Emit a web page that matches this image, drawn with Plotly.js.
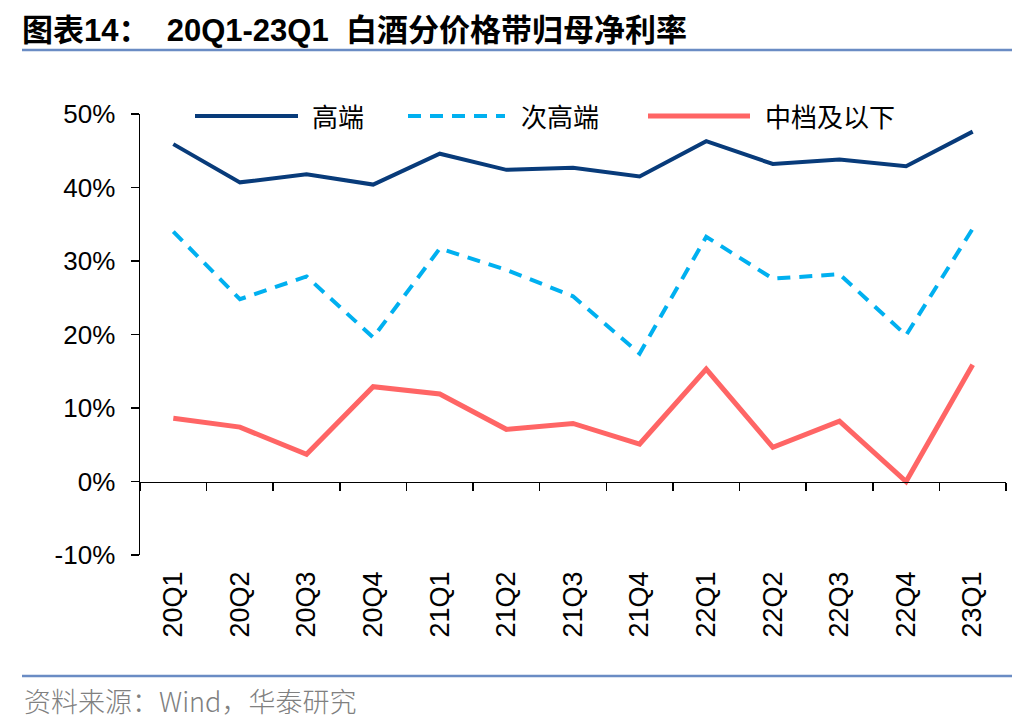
<!DOCTYPE html>
<html>
<head>
<meta charset="utf-8">
<script src="https://cdn.plot.ly/plotly-3.0.1.min.js"></script>
<style>html,body{margin:0;padding:0;background:#fff;}#chart{width:1036px;height:728px;}</style>
</head>
<body>
<div id="chart"></div>
<script>
const categories = ['20Q1','20Q2','20Q3','20Q4','21Q1','21Q2','21Q3','21Q4','22Q1','22Q2','22Q3','22Q4','23Q1'];
const highEnd = [45.9, 40.7, 41.8, 40.4, 44.6, 42.4, 42.7, 41.5, 46.3, 43.2, 43.8, 42.9, 47.6];
const subHighEnd = [34.0, 24.8, 27.9, 19.6, 31.7, 28.8, 25.2, 17.4, 33.3, 27.6, 28.2, 19.9, 34.4];
const midLow = [8.6, 7.4, 3.7, 12.9, 11.9, 7.1, 7.9, 5.1, 15.3, 4.65, 8.2, 0.0, 15.9];
const seriesNames = ['高端', '次高端', '中档及以下'];
const yTickVals = [-10, 0, 10, 20, 30, 40, 50];
const yTickText = ['-10%', '0%', '10%', '20%', '30%', '40%', '50%'];

const colors = ['#083b7a', '#00b0f0', '#ff6565'];
const dashes = ['solid', '13px,9px', 'solid'];
const widths = [4, 4, 5];
const seriesData = [highEnd, subHighEnd, midLow];

const traces = seriesData.map((vals, i) => ({
  type: 'scatter', mode: 'lines', name: seriesNames[i],
  x: categories, y: vals,
  line: {color: colors[i], width: widths[i], dash: dashes[i]},
  showlegend: false, hoverinfo: 'skip'
}));
// helper trace so that the zero-line axis (x2) gets drawn
traces.push({type: 'scatter', mode: 'lines', x: [], y: [], xaxis: 'x2', yaxis: 'y', showlegend: false, hoverinfo: 'skip'});

const W = 1036, H = 728, L = 140, R = 30, T = 114, B = 173;
const pw = W - L - R, ph = H - T - B;
const px = (p) => (p - L) / pw;           // pixel x -> paper x
const py = (p) => (H - B - p) / ph;       // pixel y -> paper y

const boundaries = categories.map((c, i) => i - 0.5).concat([categories.length - 0.5]);

// custom legend (long samples as in the reference)
const legendSpec = [
  {x0: 195, x1: 298, tx: 310},
  {x0: 408, x1: 505, tx: 519},
  {x0: 648, x1: 750, tx: 763}
];
const shapes = [];
const annotations = [];
legendSpec.forEach((s, i) => {
  shapes.push({type: 'line', xref: 'paper', yref: 'paper', x0: px(s.x0), x1: px(s.x1), y0: py(116), y1: py(116),
    line: {color: colors[i], width: widths[i], dash: dashes[i]}});
  annotations.push({xref: 'paper', yref: 'paper', x: px(s.tx), y: py(116), xanchor: 'left', yanchor: 'middle',
    text: seriesNames[i], showarrow: false,
    font: {family: 'Noto Sans CJK SC', size: 26, color: '#000'}});
});
// header / footer rules
shapes.push({type: 'line', xref: 'paper', yref: 'paper', x0: px(22), x1: px(1012), y0: py(50), y1: py(50), line: {color: '#6a8cc4', width: 2.5}});
shapes.push({type: 'line', xref: 'paper', yref: 'paper', x0: px(22), x1: px(1012), y0: py(676), y1: py(676), line: {color: '#6a8cc4', width: 2.5}});
annotations.push({xref: 'paper', yref: 'paper', x: px(22), y: py(700), xanchor: 'left', yanchor: 'middle',
  text: '资料来源：Wind，华泰研究', showarrow: false,
  font: {family: 'Noto Sans CJK SC', size: 27, color: '#808080', weight: 300}});

const layout = {
  width: W, height: H,
  margin: {l: L, r: R, t: T, b: B, pad: 0},
  paper_bgcolor: '#fff', plot_bgcolor: '#fff',
  title: {text: '图表14：  20Q1-23Q1  白酒分价格带归母净利率', xref: 'container', yref: 'container',
    x: 22 / W, xanchor: 'left', y: 1 - 30 / H, yanchor: 'middle',
    font: {family: 'Liberation Sans, Noto Sans CJK SC', size: 31, color: '#000', weight: 'bold'}},
  showlegend: false,
  xaxis: {type: 'category', range: [-0.5, categories.length - 0.5], showline: false, ticks: '',
    tickangle: -90, showgrid: false, zeroline: false, ticklabelstandoff: 10,
    tickfont: {family: 'Liberation Sans, Arial', size: 27, color: '#000'}},
  xaxis2: {overlaying: 'x', anchor: 'free', position: 10 / 60, side: 'bottom',
    range: [-0.5, categories.length - 0.5], tickmode: 'array', tickvals: boundaries,
    showticklabels: false, ticks: 'outside', ticklen: 8, tickwidth: 1.5, tickcolor: '#000',
    showline: true, linecolor: '#000', linewidth: 1.5, showgrid: false, zeroline: false},
  yaxis: {range: [-10, 50], tickmode: 'array', tickvals: yTickVals, ticktext: yTickText,
    ticks: 'outside', ticklen: 8, tickwidth: 1.5, tickcolor: '#000', ticklabelstandoff: 10,
    showline: true, linecolor: '#000', linewidth: 1.5, showgrid: false, zeroline: false,
    tickfont: {family: 'Liberation Sans, Arial', size: 26, color: '#000'}},
  shapes: shapes,
  annotations: annotations
};

Plotly.newPlot('chart', traces, layout, {displayModeBar: false, staticPlot: true});
</script>
</body>
</html>
